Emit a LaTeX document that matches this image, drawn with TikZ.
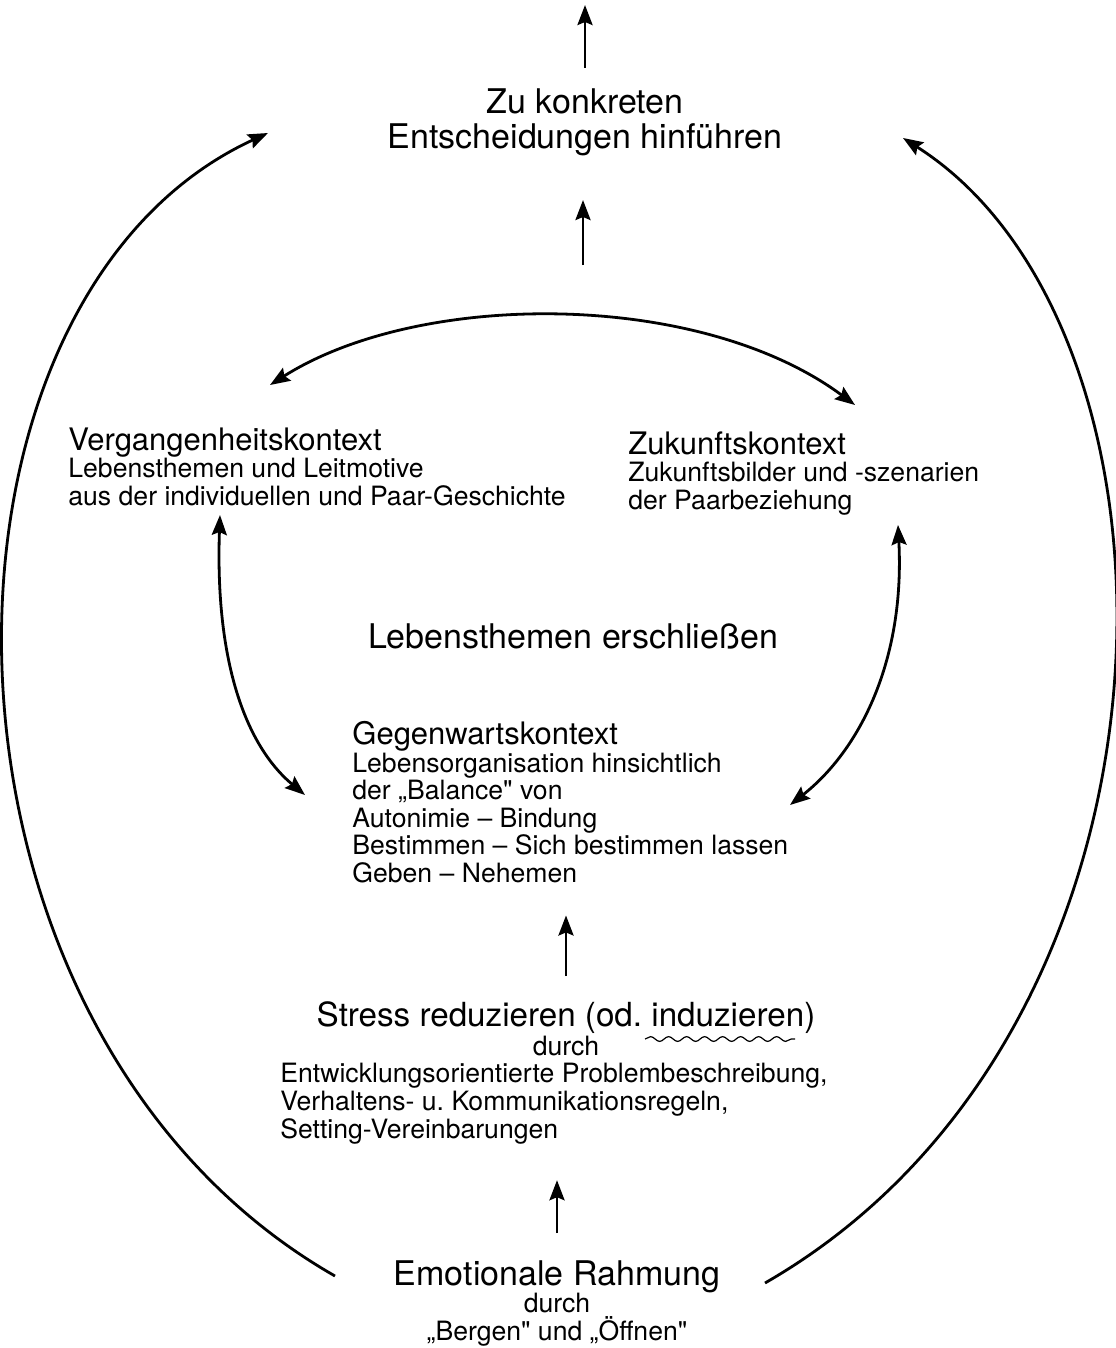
\documentclass[tikz,border=0pt]{standalone}
\usepackage{fontspec}
\setmainfont{TeX Gyre Heros}[Ligatures=TeXOff]
\usetikzlibrary{arrows.meta}
\usetikzlibrary{positioning}
\usetikzlibrary{decorations.pathmorphing}
\frenchspacing

\tikzset{
  pfeil/.style={line width=1.4pt, -{Stealth[length=10pt,width=7.5pt,inset=1.5pt]}},
  doppelpfeil/.style={line width=1.4pt, {Stealth[length=10pt,width=7.5pt,inset=1.5pt]}-{Stealth[length=10pt,width=7.5pt,inset=1.5pt]}},
  gross/.style={inner sep=0pt, font=\fontsize{17}{17.5}\selectfont},
  block/.style={inner sep=0pt, align=left, font=\fontsize{13.3}{13.8}\selectfont},
}
\newcommand{\kopf}[1]{{\fontsize{15.5}{13.8}\selectfont #1}}
\newcommand{\gr}[1]{{\fontsize{17}{13.8}\selectfont #1}}

\begin{document}
\begin{tikzpicture}[x=0.5pt,y=-0.5pt]
  \useasboundingbox (0,0) rectangle (1115,1348);

  % Texte
  \node[gross, align=center, anchor=north] (entscheid) at (585,88) {Zu konkreten\\Entscheidungen hinführen};
  \node[block, anchor=north west] (vergangen) at (68,427)
    {\kopf{Vergangenheitskontext}\\Lebensthemen und Leitmotive\\aus der individuellen und Paar-Geschichte};
  \node[block, anchor=north west] (zukunft) at (628,431)
    {\kopf{Zukunftskontext}\\Zukunftsbilder und -szenarien\\der Paarbeziehung};
  \node[gross] (erschliessen) at (573,636) {Lebensthemen erschließen};
  \node[block, anchor=north west] (gegenwart) at (352,721)
    {\kopf{Gegenwartskontext}\\Lebensorganisation hinsichtlich\\der „Balance" von\\Autonimie – Bindung\\Bestimmen – Sich bestimmen lassen\\Geben – Nehemen};
  \node[block, align=center, anchor=north] (stress) at (566,1001)
    {{\fontsize{16.6}{15}\selectfont Stress reduzieren (od. induzieren)}\\[1pt]durch};
  \node[block, anchor=north west] (mittel) at (280,1063)
    {Entwicklungsorientierte Problembeschreibung,\\Verhaltens- u. Kommunikationsregeln,\\Setting-Vereinbarungen};
  \node[block, align=center, anchor=north] (emotion) at (557,1260)
    {\gr{Emotionale Rahmung}\\durch\\„Bergen" und „Öffnen"};

  % Kringel unter "induzieren"
  \draw[line width=0.6pt, decorate, decoration={snake, amplitude=1.2pt, segment length=9pt}]
    (645,1039) -- (795,1039);

  % gerade Pfeile
  \coordinate (oben) at (585,5);
  \coordinate (bogenoben) at (583,265);
  \draw[pfeil, shorten <=10pt] (entscheid.north) -- (oben);
  \draw[pfeil, shorten >=22pt] (bogenoben) -- (entscheid.south -| bogenoben);
  \draw[pfeil, shorten <=12.5pt, shorten >=16pt] (stress.north) -- (stress.north |- gegenwart.south);
  \draw[pfeil, shorten <=13.5pt, shorten >=18pt] (emotion.north) -- (emotion.north |- mittel.south);

  % Bogen zwischen Vergangenheit und Zukunft
  \coordinate (vl) at (270,385);
  \coordinate (zr) at (855,405);
  \draw[doppelpfeil] (vl) .. controls (420,290) and (700,290) .. (zr);

  % Pfeile zur Gegenwart
  \coordinate (vu) at (220,515);
  \coordinate (gl) at (305,795);
  \coordinate (zu) at (898,525);
  \coordinate (gr) at (790,805);
  \draw[doppelpfeil] (vu) .. controls (215,660) and (245,745) .. (gl);
  \draw[doppelpfeil] (zu) .. controls (905,660) and (860,750) .. (gr);

  % große Bögen aussen
  \coordinate (el) at (335,1276);
  \coordinate (er) at (765,1283);
  \coordinate (al) at (268,133);
  \coordinate (ar) at (903,138);
  \draw[pfeil] (el) .. controls (-95,1030) and (-95,300) .. (al);
  \draw[pfeil] (er) .. controls (1205,1030) and (1205,330) .. (ar);
\end{tikzpicture}
\end{document}
